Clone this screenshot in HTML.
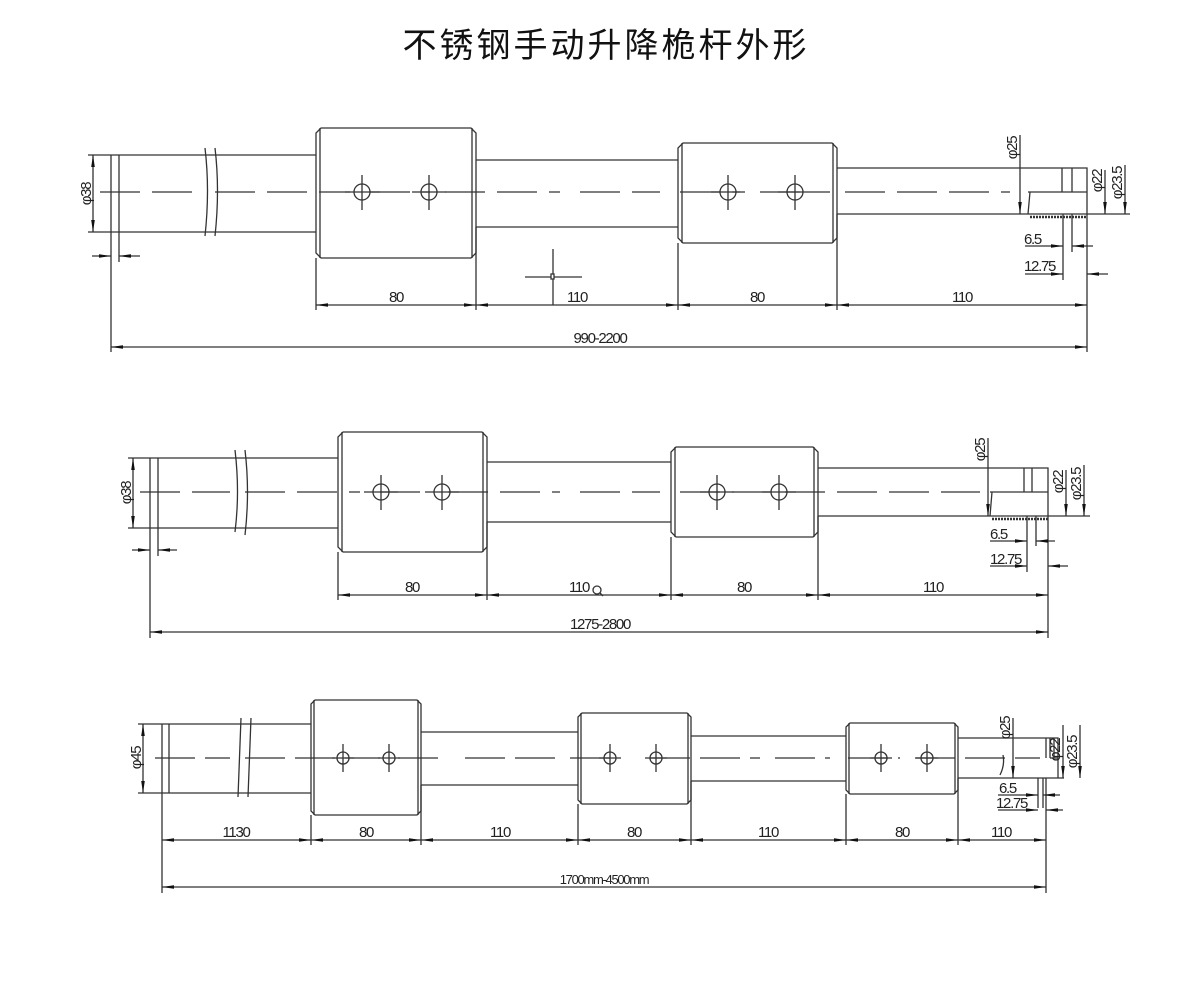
<!DOCTYPE html>
<html><head><meta charset="utf-8"><style>
html,body{margin:0;padding:0;background:#fff;width:1200px;height:1000px;overflow:hidden}
svg{display:block}
.t{font-family:"Liberation Sans Narrow","Liberation Sans",sans-serif;font-size:15px;fill:#222;letter-spacing:-1.3px}
</style></head><body>
<svg width="1200" height="1000" viewBox="0 0 1200 1000" xmlns="http://www.w3.org/2000/svg">
<defs>
<marker id="a" viewBox="0 0 12 6" refX="12" refY="3" markerWidth="12" markerHeight="6" markerUnits="userSpaceOnUse" orient="auto-start-reverse"><path d="M0 1.2 L12 3 L0 4.8Z" fill="#111"/></marker>
</defs>
<text x="606" y="57" text-anchor="middle" font-family="'Liberation Sans','Noto Sans CJK SC',sans-serif" font-size="34" letter-spacing="3" fill="#111">不锈钢手动升降桅杆外形</text>

<g stroke="#333" stroke-width="1.3" fill="none">
<!-- ============ DRAWING 1 ============ -->
<path d="M88 155H316M88 232H316"/>
<path d="M111 155V352M119 155V262"/>
<path d="M205 148Q210 190 205 236M215 148Q220 190 215 236"/>
<path d="M321 128H471L476 133V253L471 258H321L316 253V133Z"/>
<path d="M320 128V258M472 128V258"/>
<path d="M476 160H678M476 227H678"/>
<path d="M683 143H832L837 148V238L832 243H683L678 238V148Z"/>
<path d="M682 143V243M833 143V243"/>
<path d="M837 168H1062M837 214H1087"/>
<path d="M1062 168H1087V214M1062 168V192M1072 168V192M1028 192H1087M1030 192L1028 214"/>
<path d="M1030 217H1087" stroke-dasharray="2 1" stroke-width="2.5"/>
<path d="M1087 214H1130"/>
<path d="M100 192H200M215 192H350M370 192H430M445 192H560M580 192H660M680 192H740M760 192H830M845 192H1010" stroke-dasharray="40 12"/>
<circle cx="362" cy="192" r="8"/><path d="M362 175V210M345 192H380"/>
<circle cx="429" cy="192" r="8"/><path d="M429 175V210M412 192H446"/>
<circle cx="728" cy="192" r="8"/><path d="M728 175V210M711 192H745"/>
<circle cx="795" cy="192" r="8"/><path d="M795 175V210M778 192H812"/>
<path d="M525 277H582M553 249V305"/><rect x="551" y="274" width="3" height="5" fill="#fff"/>
<path d="M316 258V310M476 227V310M678 243V310M837 214V310M1087 214V352"/>
<path d="M93 155V232" marker-start="url(#a)" marker-end="url(#a)"/>
<path d="M92 256H111" marker-end="url(#a)"/><path d="M140 256H119" marker-end="url(#a)"/>
<path d="M316 305H476" marker-start="url(#a)" marker-end="url(#a)"/>
<path d="M476 305H678" marker-start="url(#a)" marker-end="url(#a)"/>
<path d="M678 305H837" marker-start="url(#a)" marker-end="url(#a)"/>
<path d="M837 305H1087" marker-start="url(#a)" marker-end="url(#a)"/>
<path d="M111 347H1087" marker-start="url(#a)" marker-end="url(#a)"/>
<path d="M1020 135V214" marker-end="url(#a)"/>
<path d="M1105 170V214" marker-end="url(#a)"/>
<path d="M1125 165V214" marker-end="url(#a)"/>
<path d="M1063 214V280M1072 214V252"/>
<path d="M1025 246H1063" marker-end="url(#a)"/><path d="M1093 246H1072" marker-end="url(#a)"/>
<path d="M1025 274H1063" marker-end="url(#a)"/><path d="M1108 274H1087" marker-end="url(#a)"/>

<!-- ============ DRAWING 2 ============ -->
<path d="M128 458H338M128 528H338"/>
<path d="M150 458V638M158 458V556"/>
<path d="M235 450Q240 492 235 532M245 450Q250 492 245 535"/>
<path d="M343 432H482L487 437V547L482 552H343L338 547V437Z"/>
<path d="M342 432V552M483 432V552"/>
<path d="M487 462H671M487 522H671"/>
<path d="M676 447H813L818 452V532L813 537H676L671 532V452Z"/>
<path d="M675 447V537M814 447V537"/>
<path d="M818 468H1024M818 516H1048"/>
<path d="M1024 468H1048V516M1024 468V492M1032 468V492M990 492H1048M992 492L990 516"/>
<path d="M992 519H1048" stroke-dasharray="2 1" stroke-width="2.5"/>
<path d="M1048 516H1090"/>
<path d="M140 492H230M245 492H360M380 492H430M448 492H560M580 492H660M680 492H770M785 492H980" stroke-dasharray="40 12"/>
<circle cx="381" cy="492" r="8"/><path d="M381 475V510M364 492H398"/>
<circle cx="442" cy="492" r="8"/><path d="M442 475V510M425 492H459"/>
<circle cx="717" cy="492" r="8"/><path d="M717 475V510M700 492H734"/>
<circle cx="779" cy="492" r="8"/><path d="M779 475V510M762 492H796"/>
<circle cx="597" cy="590" r="4"/><path d="M600 593L603 596"/>
<path d="M338 552V600M487 522V600M671 537V600M818 516V600M1048 516V638"/>
<path d="M133 458V528" marker-start="url(#a)" marker-end="url(#a)"/>
<path d="M132 550H150" marker-end="url(#a)"/><path d="M177 550H158" marker-end="url(#a)"/>
<path d="M338 595H487" marker-start="url(#a)" marker-end="url(#a)"/>
<path d="M487 595H671" marker-start="url(#a)" marker-end="url(#a)"/>
<path d="M671 595H818" marker-start="url(#a)" marker-end="url(#a)"/>
<path d="M818 595H1048" marker-start="url(#a)" marker-end="url(#a)"/>
<path d="M150 632H1048" marker-start="url(#a)" marker-end="url(#a)"/>
<path d="M988 438V516" marker-end="url(#a)"/>
<path d="M1066 470V516" marker-end="url(#a)"/>
<path d="M1084 465V516" marker-end="url(#a)"/>
<path d="M1027 516V572M1036 516V546"/>
<path d="M990 541H1027" marker-end="url(#a)"/><path d="M1055 541H1036" marker-end="url(#a)"/>
<path d="M990 566H1027" marker-end="url(#a)"/><path d="M1068 566H1048" marker-end="url(#a)"/>

<!-- ============ DRAWING 3 ============ -->
<path d="M138 724H311M138 793H311"/>
<path d="M162 724V893M169 724V793"/>
<path d="M241 718L238 797M251 718L248 797"/>
<path d="M315 700H417L421 704V811L417 815H315L311 811V704Z"/>
<path d="M314 700V815M418 700V815"/>
<path d="M421 732H578M421 785H578"/>
<path d="M582 713H687L691 717V800L687 804H582L578 800V717Z"/>
<path d="M581 713V804M688 713V804"/>
<path d="M691 736H846M691 781H846"/>
<path d="M850 723H954L958 727V790L954 794H850L846 790V727Z"/>
<path d="M849 723V794M955 723V794"/>
<path d="M958 738H1042M958 778H1064"/>
<path d="M1042 738H1058V778M1046 738V758M1050 738V758M1054 738V758M1000 775Q1005 765 1003 755"/>
<path d="M1058 758H1050"/>
<path d="M155 758H230M245 758H380M398 758H448M465 758H560M570 758H620M650 758H760M775 758H830M848 758H900M915 758H1040" stroke-dasharray="40 10"/>
<circle cx="343" cy="758" r="6"/><path d="M343 744V772M332 758H354"/>
<circle cx="389" cy="758" r="6"/><path d="M389 744V772M378 758H400"/>
<circle cx="610" cy="758" r="6"/><path d="M610 744V772M599 758H621"/>
<circle cx="656" cy="758" r="6"/><path d="M656 744V772M645 758H667"/>
<circle cx="881" cy="758" r="6"/><path d="M881 744V772M870 758H892"/>
<circle cx="927" cy="758" r="6"/><path d="M927 744V772M916 758H938"/>
<path d="M311 815V845M421 785V845M578 804V845M691 781V845M846 794V845M958 778V845M1046 778V893"/>
<path d="M143 724V793" marker-start="url(#a)" marker-end="url(#a)"/>
<path d="M162 840H311" marker-start="url(#a)" marker-end="url(#a)"/>
<path d="M311 840H421" marker-start="url(#a)" marker-end="url(#a)"/>
<path d="M421 840H578" marker-start="url(#a)" marker-end="url(#a)"/>
<path d="M578 840H691" marker-start="url(#a)" marker-end="url(#a)"/>
<path d="M691 840H846" marker-start="url(#a)" marker-end="url(#a)"/>
<path d="M846 840H958" marker-start="url(#a)" marker-end="url(#a)"/>
<path d="M958 840H1046" marker-start="url(#a)" marker-end="url(#a)"/>
<path d="M162 887H1046" marker-start="url(#a)" marker-end="url(#a)"/>
<path d="M1013 718V778" marker-end="url(#a)"/>
<path d="M1063 725V778" marker-end="url(#a)"/>
<path d="M1080 725V778" marker-end="url(#a)"/>
<path d="M1038 778V808M1043 778V808"/>
<path d="M998 795H1038" marker-end="url(#a)"/><path d="M1060 795H1043" marker-end="url(#a)"/>
<path d="M998 810H1038" marker-end="url(#a)"/><path d="M1063 810H1046" marker-end="url(#a)"/>
</g>

<g class="t">
<text x="396" y="302" text-anchor="middle">80</text>
<text x="577" y="302" text-anchor="middle">110</text>
<text x="757" y="302" text-anchor="middle">80</text>
<text x="962" y="302" text-anchor="middle">110</text>
<text x="600" y="343" text-anchor="middle">990-2200</text>
<text transform="translate(91 194) rotate(-90)" text-anchor="middle">φ38</text>
<text transform="translate(1017 148) rotate(-90)" text-anchor="middle">φ25</text>
<text transform="translate(1102 181) rotate(-90)" text-anchor="middle">φ22</text>
<text transform="translate(1122 183) rotate(-90)" text-anchor="middle">φ23.5</text>
<text x="1024" y="244">6.5</text>
<text x="1024" y="271">12.75</text>

<text x="412" y="592" text-anchor="middle">80</text>
<text x="579" y="592" text-anchor="middle">110</text>
<text x="744" y="592" text-anchor="middle">80</text>
<text x="933" y="592" text-anchor="middle">110</text>
<text x="600" y="629" text-anchor="middle">1275-2800</text>
<text transform="translate(131 493) rotate(-90)" text-anchor="middle">φ38</text>
<text transform="translate(985 450) rotate(-90)" text-anchor="middle">φ25</text>
<text transform="translate(1063 482) rotate(-90)" text-anchor="middle">φ22</text>
<text transform="translate(1081 484) rotate(-90)" text-anchor="middle">φ23.5</text>
<text x="990" y="539">6.5</text>
<text x="990" y="564">12.75</text>

<text x="236" y="837" text-anchor="middle">1130</text>
<text x="366" y="837" text-anchor="middle">80</text>
<text x="500" y="837" text-anchor="middle">110</text>
<text x="634" y="837" text-anchor="middle">80</text>
<text x="768" y="837" text-anchor="middle">110</text>
<text x="902" y="837" text-anchor="middle">80</text>
<text x="1001" y="837" text-anchor="middle">110</text>
<text x="604" y="884" text-anchor="middle" font-size="13">1700mm-4500mm</text>
<text transform="translate(141 758) rotate(-90)" text-anchor="middle">φ45</text>
<text transform="translate(1010 728) rotate(-90)" text-anchor="middle">φ25</text>
<text transform="translate(1060 750) rotate(-90)" text-anchor="middle">φ22</text>
<text transform="translate(1077 752) rotate(-90)" text-anchor="middle">φ23.5</text>
<text x="999" y="793">6.5</text>
<text x="996" y="808">12.75</text>
</g>
</svg>
</body></html>
